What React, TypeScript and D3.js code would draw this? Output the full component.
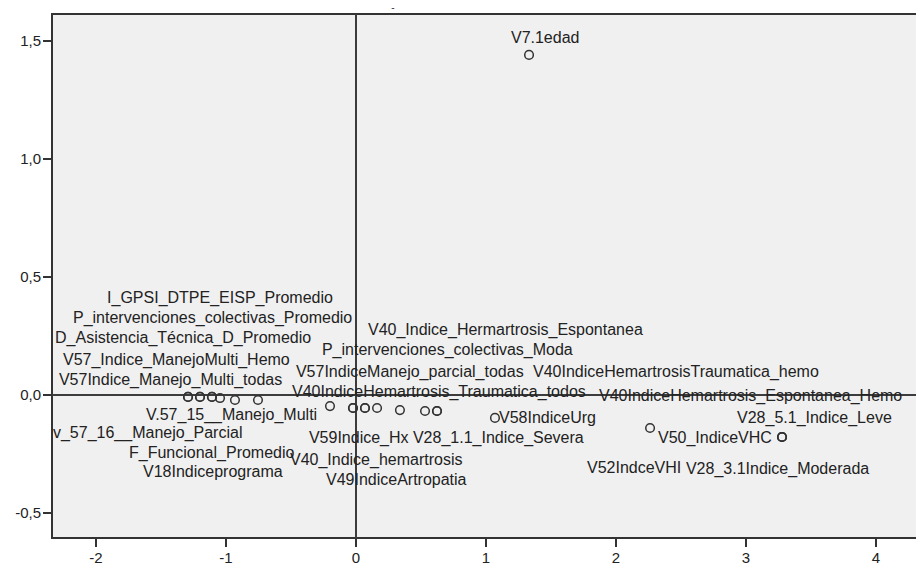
import React from "react";
import * as d3 from "d3";

// variable names, point coordinates and label anchors (data units)
const names = [
  "V7.1edad",
  "I_GPSI_DTPE_EISP_Promedio",
  "P_intervenciones_colectivas_Promedio",
  "D_Asistencia_Técnica_D_Promedio",
  "V57_Indice_ManejoMulti_Hemo",
  "V57Indice_Manejo_Multi_todas",
  "V.57_15__Manejo_Multi",
  "v_57_16__Manejo_Parcial",
  "F_Funcional_Promedio",
  "V18Indiceprograma",
  "V40_Indice_Hermartrosis_Espontanea",
  "P_intervenciones_colectivas_Moda",
  "V57IndiceManejo_parcial_todas",
  "V40IndiceHemartrosis_Traumatica_todos",
  "V59Indice_Hx",
  "V40_Indice_hemartrosis",
  "V49IndiceArtropatia",
  "V40IndiceHemartrosisTraumatica_hemo",
  "V40IndiceHemartrosis_Espontanea_Hemo",
  "V58IndiceUrg",
  "V28_1.1_Indice_Severa",
  "V50_IndiceVHC",
  "V28_5.1_Indice_Leve",
  "V52IndceVHI",
  "V28_3.1Indice_Moderada",
];

const dim1 = [
  1.331, -1.292, -1.108, -1.2, -1.2, -1.108, -1.046, -1.292, -0.931, -0.754,
  0.623, -0.023, 0.069, 0.162, -0.2, -0.023, 0.069, 0.531, 0.623, 1.069,
  0.338, 2.262, 3.277, 3.277, 3.277,
];

const dim2 = [
  1.441, -0.008, -0.008, -0.008, -0.008, -0.008, -0.013, -0.008, -0.021, -0.021,
  -0.068, -0.055, -0.055, -0.055, -0.047, -0.055, -0.055, -0.068, -0.068, -0.097,
  -0.064, -0.14, -0.178, -0.178, -0.178,
];

const labelDim1 = [
  1.192, -1.915, -2.177, -2.315, -2.254, -2.285, -1.615, -2.331, -1.746, -1.638,
  0.092, -0.262, -0.462, -0.492, -0.362, -0.508, -0.231, 1.362, 1.869, 1.1,
  0.438, 2.323, 2.931, 1.777, 2.538,
];

const labelDim2 = [
  1.492, 0.39, 0.305, 0.22, 0.127, 0.042, -0.106, -0.182, -0.267, -0.347,
  0.254, 0.169, 0.076, -0.008, -0.203, -0.297, -0.381, 0.076, -0.025, -0.119,
  -0.203, -0.203, -0.119, -0.331, -0.335,
];

const xTicks = [-2, -1, 0, 1, 2, 3, 4];
const yTicks = [-0.5, 0, 0.5, 1.0, 1.5];

export default function App() {
  const ref = React.useRef<SVGSVGElement>(null);

  React.useEffect(() => {
    drawChart();
  }, []);

  function drawChart() {
    const width = 916;
    const height = 565;
    const plot = { left: 52, top: 14, right: 930, bottom: 538 };

    const x = d3.scaleLinear().domain([-2, 4]).range([96, 876]);
    const y = d3.scaleLinear().domain([-0.5, 1.5]).range([513, 41]);

    const svg = d3.select(ref.current);
    svg.selectAll("*").remove();
    svg.attr("width", width).attr("height", height);

    const font = "'Liberation Sans', Arial, sans-serif";
    const ink = "#333";
    // SPSS style: plain hyphen, decimal comma
    const fmtX = (t: number) => d3.format("d")(t).replace("\u2212", "-");
    const fmtY = (t: number) =>
      d3.format(".1f")(t).replace("\u2212", "-").replace(".", ",");

    svg.append("rect")
      .attr("x", plot.left)
      .attr("y", plot.top)
      .attr("width", plot.right - plot.left)
      .attr("height", plot.bottom - plot.top)
      .attr("fill", "#f0f0f0")
      .attr("stroke", ink)
      .attr("stroke-width", 2);

    // zero reference lines
    svg.append("line")
      .attr("x1", x(0)).attr("x2", x(0))
      .attr("y1", plot.top).attr("y2", plot.bottom)
      .attr("stroke", "#3c3c3c").attr("stroke-width", 2);
    svg.append("line")
      .attr("x1", plot.left).attr("x2", plot.right)
      .attr("y1", y(0)).attr("y2", y(0))
      .attr("stroke", "#3c3c3c").attr("stroke-width", 2);

    // little leftover title mark
    svg.append("text")
      .attr("x", 393).attr("y", 11)
      .attr("text-anchor", "middle")
      .attr("font-family", font).attr("font-size", 10)
      .attr("fill", ink)
      .text("-");

    // x axis
    const xAxis = svg.append("g");
    xTicks.forEach((t) => {
      xAxis.append("line")
        .attr("x1", x(t)).attr("x2", x(t))
        .attr("y1", plot.bottom).attr("y2", plot.bottom + 9)
        .attr("stroke", ink).attr("stroke-width", 2);
      xAxis.append("text")
        .attr("x", x(t)).attr("y", plot.bottom + 25)
        .attr("text-anchor", "middle")
        .attr("font-family", font).attr("font-size", 15)
        .attr("fill", "#222")
        .text(fmtX(t));
    });

    // y axis
    const yAxis = svg.append("g");
    yTicks.forEach((t) => {
      yAxis.append("line")
        .attr("x1", plot.left - 9).attr("x2", plot.left)
        .attr("y1", y(t)).attr("y2", y(t))
        .attr("stroke", ink).attr("stroke-width", 2);
      yAxis.append("text")
        .attr("x", plot.left - 11).attr("y", y(t) + 5)
        .attr("text-anchor", "end")
        .attr("font-family", font).attr("font-size", 15)
        .attr("fill", "#222")
        .text(fmtY(t));
    });

    const idx = d3.range(names.length);

    svg.append("g")
      .selectAll("circle")
      .data(idx)
      .enter()
      .append("circle")
      .attr("cx", (i) => x(dim1[i]))
      .attr("cy", (i) => y(dim2[i]))
      .attr("r", 4.3)
      .attr("fill", "none")
      .attr("stroke", ink)
      .attr("stroke-width", 1.5);

    svg.append("g")
      .selectAll("text")
      .data(idx)
      .enter()
      .append("text")
      .attr("x", (i) => x(labelDim1[i]))
      .attr("y", (i) => y(labelDim2[i]))
      .attr("font-family", font)
      .attr("font-size", 16)
      .attr("fill", "#222")
      .text((i) => names[i]);
  }

  return (
    <svg
      ref={ref}
      style={{ position: "absolute", left: 0, top: 0, background: "#fff" }}
    />
  );
}
